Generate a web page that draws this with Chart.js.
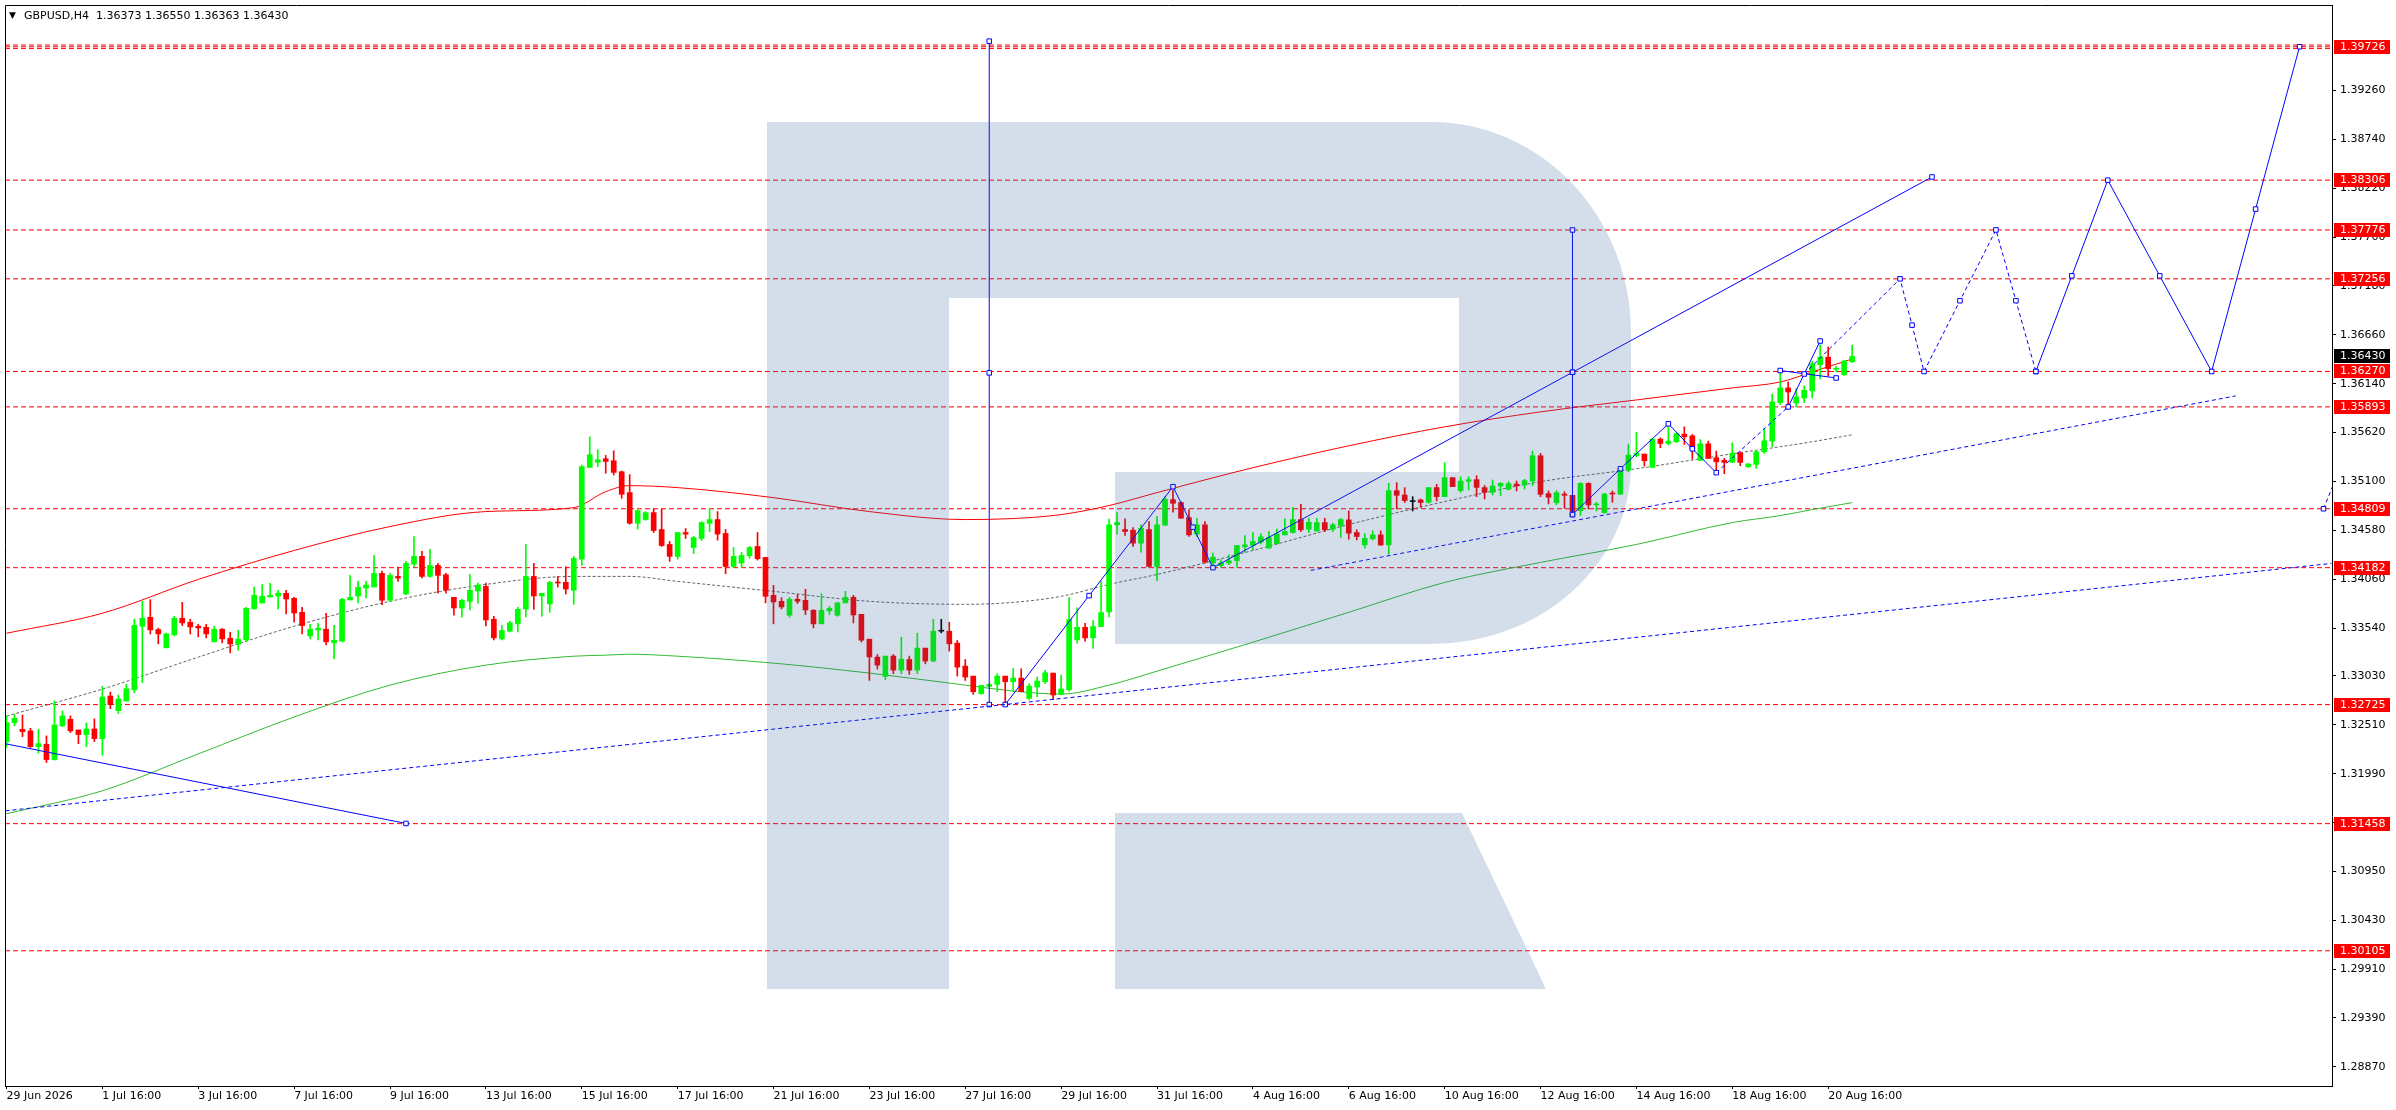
<!DOCTYPE html>
<html lang="en">
<head>
<meta charset="UTF-8">
<title>GBPUSD,H4</title>
<script src="https://cdn.jsdelivr.net/npm/chart.js"></script>
<style>
    html, body { margin: 0; padding: 0; background: #fff; overflow: hidden; }
    canvas { display: block; }
</style>
</head>
<body>
<canvas id="chart" width="2396" height="1110"></canvas>
<script>
// --- Data (bar index 0 = 29 Jun 16:00, H4 bars) ---
const symbol = 'GBPUSD,H4';

const openP = [
    1.32331, 1.32533, 1.32462, 1.32445, 1.32278, 1.32303, 1.32140, 1.32498, 1.32568, 1.32455, 1.32406, 1.32466,
    1.32363, 1.32816, 1.32660, 1.32763, 1.32883, 1.33559, 1.33654, 1.33523, 1.33329, 1.33467, 1.33644, 1.33601,
    1.33559, 1.33548, 1.33393, 1.33527, 1.33431, 1.33371, 1.33414, 1.33743, 1.33806, 1.33870, 1.33881, 1.33909,
    1.33856, 1.33707, 1.33456, 1.33520, 1.33527, 1.33382, 1.33400, 1.33838, 1.33881, 1.33966, 1.33976, 1.34121,
    1.33835, 1.34089, 1.33902, 1.34220, 1.34302, 1.34089, 1.34206, 1.34107, 1.33866, 1.33753, 1.33824, 1.33934,
    1.33983, 1.33633, 1.33424, 1.33506, 1.33584, 1.33743, 1.34089, 1.33881, 1.33796, 1.34026, 1.34026, 1.33941,
    1.34273, 1.35249, 1.35303, 1.35341, 1.35320, 1.35203, 1.34981, 1.34655, 1.34694, 1.34768, 1.34588, 1.34429,
    1.34302, 1.34556, 1.34397, 1.34493, 1.34655, 1.34694, 1.34546, 1.34195, 1.34231, 1.34309, 1.34408, 1.34291,
    1.33888, 1.33824, 1.33676, 1.33846, 1.33835, 1.33729, 1.33584, 1.33722, 1.33676, 1.33807, 1.33867, 1.33686,
    1.33421, 1.33230, 1.33025, 1.33241, 1.33092, 1.33205, 1.33092, 1.33326, 1.33188, 1.33506, 1.33506, 1.33379,
    1.33135, 1.33028, 1.32841, 1.32919, 1.32940, 1.33028, 1.32968, 1.33007, 1.32791, 1.32912, 1.32968, 1.33060,
    1.32834, 1.32883, 1.33414, 1.33548, 1.33435, 1.33555, 1.33711, 1.34638, 1.34588, 1.34581, 1.34443, 1.34588,
    1.34195, 1.34634, 1.34906, 1.34875, 1.34715, 1.34539, 1.34638, 1.34231, 1.34203, 1.34231, 1.34256, 1.34404,
    1.34418, 1.34454, 1.34390, 1.34436, 1.34531, 1.34556, 1.34694, 1.34592, 1.34574, 1.34662, 1.34592, 1.34630,
    1.34691, 1.34556, 1.34425, 1.34489, 1.34531, 1.34425, 1.35002, 1.34956, 1.34885, 1.34903, 1.34878, 1.35034,
    1.34938, 1.35140, 1.35002, 1.35101, 1.35119, 1.35034, 1.34984, 1.35051, 1.35016, 1.35072, 1.35062, 1.35104,
    1.35373, 1.34970, 1.34874, 1.34966, 1.34952, 1.34789, 1.35079, 1.34850, 1.34768, 1.34977, 1.34963, 1.35221,
    1.35373, 1.35391, 1.35249, 1.35550, 1.35504, 1.35522, 1.35603, 1.35585, 1.35324, 1.35500, 1.35352, 1.35324,
    1.35302, 1.35401, 1.35256, 1.35281, 1.35415, 1.35529, 1.35939, 1.36095, 1.35935, 1.35988, 1.36063, 1.36342,
    1.36423, 1.36293, 1.36236, 1.36373
];
const highP = [
    1.32604, 1.32621, 1.32614, 1.32473, 1.32462, 1.32392, 1.32763, 1.32657, 1.32604, 1.32455, 1.32530, 1.32572,
    1.32919, 1.32858, 1.32827, 1.32940, 1.33633, 1.33824, 1.33842, 1.33538, 1.33485, 1.33665, 1.33813, 1.33633,
    1.33580, 1.33580, 1.33559, 1.33534, 1.33495, 1.33516, 1.33760, 1.33976, 1.34001, 1.34015, 1.33941, 1.33941,
    1.33866, 1.33760, 1.33580, 1.33591, 1.33697, 1.33569, 1.33856, 1.34100, 1.34036, 1.34036, 1.34312, 1.34146,
    1.34121, 1.34188, 1.34249, 1.34514, 1.34355, 1.34376, 1.34227, 1.34121, 1.33866, 1.33849, 1.34111, 1.34019,
    1.34019, 1.33665, 1.33569, 1.33612, 1.33760, 1.34429, 1.34227, 1.33909, 1.34036, 1.34089, 1.34192, 1.34302,
    1.35274, 1.35575, 1.35437, 1.35377, 1.35426, 1.35211, 1.35172, 1.34797, 1.34779, 1.34804, 1.34807, 1.34461,
    1.34556, 1.34599, 1.34514, 1.34673, 1.34807, 1.34779, 1.34588, 1.34397, 1.34344, 1.34408, 1.34556, 1.34291,
    1.33994, 1.33863, 1.33867, 1.33895, 1.33952, 1.33736, 1.33906, 1.33771, 1.33814, 1.33930, 1.33888, 1.33686,
    1.33421, 1.33258, 1.33241, 1.33258, 1.33442, 1.33241, 1.33485, 1.33326, 1.33633, 1.33633, 1.33601, 1.33407,
    1.33205, 1.33028, 1.32929, 1.32947, 1.33053, 1.33028, 1.33110, 1.33106, 1.32947, 1.33018, 1.33089, 1.33060,
    1.33039, 1.33867, 1.33754, 1.33591, 1.33619, 1.34036, 1.34698, 1.34769, 1.34701, 1.34609, 1.34638, 1.34673,
    1.34726, 1.34938, 1.35009, 1.34885, 1.34797, 1.34708, 1.34673, 1.34337, 1.34266, 1.34319, 1.34418, 1.34524,
    1.34556, 1.34542, 1.34567, 1.34592, 1.34701, 1.34825, 1.34857, 1.34708, 1.34708, 1.34708, 1.34655, 1.34708,
    1.34786, 1.34585, 1.34546, 1.34574, 1.34574, 1.35080, 1.35087, 1.35034, 1.34938, 1.34913, 1.35034, 1.35069,
    1.35299, 1.35140, 1.35150, 1.35150, 1.35161, 1.35055, 1.35115, 1.35087, 1.35097, 1.35104, 1.35122, 1.35423,
    1.35398, 1.34998, 1.35002, 1.34991, 1.34952, 1.35087, 1.35087, 1.34878, 1.34973, 1.34998, 1.35256, 1.35497,
    1.35621, 1.35391, 1.35557, 1.35564, 1.35681, 1.35617, 1.35681, 1.35599, 1.35546, 1.35529, 1.35423, 1.35345,
    1.35511, 1.35415, 1.35292, 1.35423, 1.35663, 1.36031, 1.36264, 1.36158, 1.36088, 1.36116, 1.36377, 1.36554,
    1.36530, 1.36325, 1.36388, 1.36550
];
const lowP = [
    1.32268, 1.32498, 1.32384, 1.32268, 1.32208, 1.32109, 1.32133, 1.32491, 1.32427, 1.32310, 1.32278, 1.32331,
    1.32186, 1.32682, 1.32629, 1.32763, 1.32851, 1.32958, 1.33477, 1.33371, 1.33329, 1.33456, 1.33566, 1.33477,
    1.33446, 1.33435, 1.33393, 1.33382, 1.33276, 1.33304, 1.33400, 1.33743, 1.33806, 1.33870, 1.33743, 1.33690,
    1.33601, 1.33477, 1.33424, 1.33414, 1.33361, 1.33212, 1.33393, 1.33838, 1.33806, 1.33859, 1.33976, 1.33789,
    1.33824, 1.34036, 1.33895, 1.34192, 1.34072, 1.34082, 1.33912, 1.33912, 1.33676, 1.33654, 1.33732, 1.33803,
    1.33562, 1.33414, 1.33414, 1.33499, 1.33499, 1.33658, 1.33739, 1.33665, 1.33707, 1.33976, 1.33902, 1.33792,
    1.34206, 1.35249, 1.35257, 1.35186, 1.35168, 1.34921, 1.34645, 1.34592, 1.34687, 1.34556, 1.34408, 1.34249,
    1.34273, 1.34493, 1.34333, 1.34471, 1.34567, 1.34475, 1.34118, 1.34185, 1.34185, 1.34284, 1.34263, 1.33807,
    1.33584, 1.33743, 1.33655, 1.33800, 1.33683, 1.33541, 1.33584, 1.33683, 1.33665, 1.33807, 1.33594, 1.33391,
    1.32982, 1.33103, 1.32990, 1.33053, 1.33053, 1.33046, 1.33053, 1.33159, 1.33181, 1.33488, 1.33294, 1.33028,
    1.32982, 1.32834, 1.32834, 1.32912, 1.32862, 1.32728, 1.32862, 1.32862, 1.32777, 1.32806, 1.32947, 1.32777,
    1.32827, 1.32869, 1.33379, 1.33400, 1.33322, 1.33555, 1.33658, 1.34539, 1.34525, 1.34408, 1.34348, 1.34188,
    1.34043, 1.34634, 1.34772, 1.34708, 1.34514, 1.34514, 1.34231, 1.34178, 1.34188, 1.34213, 1.34188, 1.34348,
    1.34372, 1.34436, 1.34390, 1.34436, 1.34531, 1.34549, 1.34567, 1.34556, 1.34567, 1.34567, 1.34567, 1.34503,
    1.34485, 1.34478, 1.34390, 1.34475, 1.34422, 1.34326, 1.34807, 1.34875, 1.34786, 1.34825, 1.34867, 1.34892,
    1.34938, 1.35044, 1.34984, 1.35009, 1.34938, 1.34913, 1.34956, 1.34949, 1.35009, 1.34998, 1.35019, 1.35055,
    1.34938, 1.34860, 1.34850, 1.34814, 1.34736, 1.34736, 1.34807, 1.34786, 1.34761, 1.34878, 1.34963, 1.35203,
    1.35362, 1.35263, 1.35249, 1.35458, 1.35486, 1.35514, 1.35493, 1.35338, 1.35324, 1.35345, 1.35214, 1.35182,
    1.35302, 1.35267, 1.35249, 1.35239, 1.35398, 1.35469, 1.35918, 1.35918, 1.35893, 1.35939, 1.35988, 1.36194,
    1.36222, 1.36264, 1.36229, 1.36363
];
const closeP = [
    1.32533, 1.32579, 1.32438, 1.32278, 1.32310, 1.32140, 1.32508, 1.32604, 1.32445, 1.32406, 1.32466, 1.32363,
    1.32805, 1.32724, 1.32784, 1.32894, 1.33569, 1.33644, 1.33520, 1.33477, 1.33477, 1.33644, 1.33594, 1.33552,
    1.33541, 1.33477, 1.33527, 1.33424, 1.33371, 1.33421, 1.33750, 1.33888, 1.33877, 1.33888, 1.33912, 1.33849,
    1.33700, 1.33566, 1.33527, 1.33538, 1.33393, 1.33410, 1.33845, 1.33866, 1.33973, 1.33997, 1.34121, 1.33835,
    1.34100, 1.34072, 1.34227, 1.34302, 1.34089, 1.34206, 1.34100, 1.33944, 1.33753, 1.33835, 1.33941, 1.33997,
    1.33626, 1.33435, 1.33513, 1.33594, 1.33739, 1.34089, 1.33881, 1.33909, 1.34026, 1.34019, 1.33955, 1.34280,
    1.35257, 1.35384, 1.35331, 1.35313, 1.35196, 1.34963, 1.34655, 1.34790, 1.34768, 1.34577, 1.34418, 1.34302,
    1.34556, 1.34539, 1.34503, 1.34662, 1.34694, 1.34539, 1.34195, 1.34302, 1.34312, 1.34397, 1.34277, 1.33877,
    1.33817, 1.33764, 1.33846, 1.33824, 1.33732, 1.33584, 1.33729, 1.33750, 1.33808, 1.33867, 1.33679, 1.33410,
    1.33232, 1.33145, 1.33241, 1.33092, 1.33209, 1.33092, 1.33326, 1.33188, 1.33506, 1.33506, 1.33372, 1.33124,
    1.33018, 1.32862, 1.32929, 1.32940, 1.33028, 1.32968, 1.33007, 1.32862, 1.32922, 1.32975, 1.33064, 1.32827,
    1.32891, 1.33630, 1.33548, 1.33435, 1.33555, 1.33704, 1.34638, 1.34662, 1.34567, 1.34443, 1.34602, 1.34195,
    1.34638, 1.34910, 1.34867, 1.34708, 1.34531, 1.34638, 1.34241, 1.34294, 1.34231, 1.34256, 1.34418, 1.34425,
    1.34461, 1.34510, 1.34503, 1.34542, 1.34567, 1.34694, 1.34585, 1.34666, 1.34662, 1.34585, 1.34638, 1.34694,
    1.34549, 1.34514, 1.34493, 1.34531, 1.34422, 1.35002, 1.34952, 1.34896, 1.34885, 1.34875, 1.35034, 1.34938,
    1.35140, 1.35044, 1.35104, 1.35119, 1.35037, 1.34984, 1.35051, 1.35080, 1.35076, 1.35055, 1.35108, 1.35373,
    1.34963, 1.34931, 1.34980, 1.34952, 1.34779, 1.35079, 1.34850, 1.34860, 1.34966, 1.34966, 1.35239, 1.35380,
    1.35398, 1.35320, 1.35550, 1.35504, 1.35529, 1.35607, 1.35575, 1.35451, 1.35500, 1.35345, 1.35309, 1.35302,
    1.35401, 1.35302, 1.35285, 1.35415, 1.35532, 1.35946, 1.36095, 1.36052, 1.35999, 1.36070, 1.36353, 1.36423,
    1.36300, 1.36303, 1.36381, 1.36430
];

// time axis labels (one every 12 bars)
const xTickIdx = [0, 12, 24, 36, 48, 60, 72, 84, 96, 108, 120, 132, 144, 156, 168, 180, 192, 204, 216, 228];
const xTickLabels = ['29 Jun 2026', '1 Jul 16:00', '3 Jul 16:00', '7 Jul 16:00', '9 Jul 16:00', '13 Jul 16:00',
    '15 Jul 16:00', '17 Jul 16:00', '21 Jul 16:00', '23 Jul 16:00', '27 Jul 16:00', '29 Jul 16:00',
    '31 Jul 16:00', '4 Aug 16:00', '6 Aug 16:00', '10 Aug 16:00', '12 Aug 16:00', '14 Aug 16:00',
    '18 Aug 16:00', '20 Aug 16:00'];

// price axis labels
const yTickValues = [1.39260, 1.38740, 1.38220, 1.37700, 1.37180, 1.36660, 1.36140, 1.35620, 1.35100,
    1.34580, 1.34060, 1.33540, 1.33030, 1.32510, 1.31990, 1.31470, 1.30950, 1.30430, 1.29910, 1.29390, 1.28870];

// horizontal levels (red dashed, with red price tags)
const levels = [1.39726, 1.38306, 1.37776, 1.37256, 1.36270, 1.35893, 1.34809, 1.34182, 1.32725, 1.31458, 1.30105];
const levelBandExtra = [1.39744, 1.39708];
const lastPrice = 1.36430;

// moving averages, read at these bars
const maIdx = [0, 12, 24, 36, 48, 60, 71, 75, 78, 84, 96, 108, 120, 126, 132, 138, 144, 156, 168, 180, 192, 204, 216, 222, 226, 231];
const maUpper = [1.33484, 1.33697, 1.34057, 1.34365, 1.34620, 1.34779, 1.34821, 1.34991, 1.35055, 1.35034, 1.34927, 1.34779,
    1.34694, 1.34705, 1.34747, 1.34843, 1.34981, 1.35246, 1.35479, 1.35681, 1.35840, 1.35967, 1.36095, 1.36158, 1.36265, 1.36403];
const maMiddle = [1.32603, 1.32890, 1.33230, 1.33559, 1.33824, 1.34004, 1.34089, 1.34089, 1.34089, 1.34036, 1.33930, 1.33824,
    1.33792, 1.33813, 1.33877, 1.34004, 1.34110, 1.34365, 1.34641, 1.34885, 1.35097, 1.35235, 1.35394, 1.35469, 1.35522, 1.35596];
const maLower = [1.31563, 1.31808, 1.32200, 1.32593, 1.32932, 1.33145, 1.33240, 1.33251, 1.33261, 1.33240, 1.33166, 1.33060,
    1.32932, 1.32869, 1.32837, 1.32932, 1.33081, 1.33389, 1.33707, 1.34025, 1.34238, 1.34429, 1.34662, 1.34736, 1.34800, 1.34874];

// blue drawings (bar index, price)
const oldTrendIdx = [-0.125, 50];
const oldTrendVal = [1.32308, 1.31460];
const longSupIdx = [-0.125, 291.0];
const longSupVal = [1.31595, 1.34227];
const shortSupIdx = [163.25, 279];
const shortSupVal = [1.34153, 1.36010];
const vert1Idx = [123, 123, 123];
const vert1Val = [1.32725, 1.36255, 1.39785];
const vert2Idx = [196, 196, 196];
const vert2Val = [1.34747, 1.36262, 1.37776];
const waveAIdx = [125, 135.5, 146, 148.5, 151, 196, 241];
const waveAVal = [1.32725, 1.33885, 1.35044, 1.34613, 1.34182, 1.36261, 1.38340];
const waveBIdx = [196, 202, 208, 211, 214];
const waveBVal = [1.34747, 1.35235, 1.35713, 1.35447, 1.35193];
const linkIdx = [214, 223];
const linkVal = [1.35193, 1.35893];
const waveCIdx = [223, 225, 227];
const waveCVal = [1.35893, 1.36243, 1.36594];
const waveDIdx = [222, 229];
const waveDVal = [1.36280, 1.36201];
const fcDashIdx = [225, 237, 238.5, 240, 244.5, 249, 251.5, 254];
const fcDashVal = [1.36243, 1.37256, 1.36763, 1.36270, 1.37023, 1.37776, 1.37023, 1.36270];
const fcSolidIdx = [254, 258.5, 263, 269.5, 276, 281.5, 287];
const fcSolidVal = [1.36270, 1.37288, 1.38306, 1.37288, 1.36270, 1.37998, 1.39726];
const edgeIdx = [290, 291.2];
const edgeVal = [1.34809, 1.35060];

// --- axis window ---
const X_MIN = -0.1875, X_MAX = 291.0625;
const Y_MIN = 1.28666, Y_MAX = 1.40170;

const FONT = '"DejaVu Sans", Tahoma, sans-serif';
const BLUE = '#0000ff';
const UP = '#00ff00', DOWN = '#ff0000', FLAT = '#000000';

const bars = openP.map((_, i) => i);
const candleColor = bars.map(i => closeP[i] > openP[i] ? UP : (closeP[i] < openP[i] ? DOWN : FLAT));

function pts(idx, val) {
    return idx.map((x, k) => ({ x: x, y: val[k] }));
}

function blue(idx, val, dash, marks) {
    return {
        type: 'line',
        data: pts(idx, val),
        borderColor: BLUE,
        borderWidth: 1,
        borderDash: dash ? [4, 3] : [],
        tension: 0,
        pointStyle: 'rect',
        pointRadius: idx.map((_, k) => (marks === 'all' || (marks || []).includes(k)) ? 3.2 : 0),
        pointBackgroundColor: '#ffffff',
        pointBorderColor: BLUE,
        pointBorderWidth: 1,
        order: 0
    };
}

function maLine(val, color, dash) {
    return {
        type: 'line',
        data: pts(maIdx, val),
        borderColor: color,
        borderWidth: 1,
        borderDash: dash || [],
        pointRadius: 0,
        cubicInterpolationMode: 'monotone',
        order: 3
    };
}

const levelSets = levels.concat(levelBandExtra).map(v => ({
    type: 'line',
    data: [{ x: X_MIN, y: v }, { x: X_MAX, y: v }],
    borderColor: '#ff0000',
    borderWidth: 1,
    borderDash: [5, 3],
    pointRadius: 0,
    order: 4
}));

const datasets = [
    // wicks
    {
        type: 'bar',
        data: bars.map(i => ({ x: i, y: [lowP[i], highP[i]] })),
        backgroundColor: candleColor,
        barThickness: 1,
        grouped: false,
        borderWidth: 0,
        order: 2
    },
    // bodies
    {
        type: 'bar',
        data: bars.map(i => ({ x: i, y: [openP[i], closeP[i]] })),
        backgroundColor: candleColor,
        barThickness: 5,
        minBarLength: 1,
        grouped: false,
        borderWidth: 0,
        order: 1
    },
    maLine(maUpper, '#ff0000'),
    maLine(maMiddle, '#666666', [3, 2]),
    maLine(maLower, '#33bb33'),
    ...levelSets,
    blue(oldTrendIdx, oldTrendVal, false, [1]),
    blue(longSupIdx, longSupVal, true, []),
    blue(shortSupIdx, shortSupVal, true, []),
    blue(vert1Idx, vert1Val, false, 'all'),
    blue(vert2Idx, vert2Val, false, 'all'),
    blue(waveAIdx, waveAVal, false, 'all'),
    blue(waveBIdx, waveBVal, false, 'all'),
    blue(linkIdx, linkVal, true, []),
    blue(waveCIdx, waveCVal, false, 'all'),
    blue(waveDIdx, waveDVal, false, 'all'),
    blue(fcDashIdx, fcDashVal, true, [1, 2, 3, 4, 5, 6, 7]),
    blue(fcSolidIdx, fcSolidVal, false, 'all'),
    blue(edgeIdx, edgeVal, true, [0])
];

// watermark logo, tags, frame and header
const terminalPlugin = {
    id: 'terminal',
    afterDatasetsDraw(chart) {
        const { ctx, chartArea: a } = chart;
        const L = a.left - 2, T = a.top - 2;
        ctx.save();
        ctx.beginPath();
        ctx.rect(a.left, a.top, a.right - a.left, a.bottom - a.top);
        ctx.clip();
        ctx.fillStyle = 'rgba(40, 90, 150, 0.2)';
        ctx.beginPath();
        // stem
        ctx.moveTo(L + 764, T + 119);
        ctx.lineTo(L + 946, T + 119);
        ctx.lineTo(L + 946, T + 986);
        ctx.lineTo(L + 764, T + 986);
        ctx.closePath();
        // bowl
        ctx.moveTo(L + 940, T + 119);
        ctx.lineTo(L + 1428, T + 119);
        ctx.ellipse(L + 1428, T + 330, 200, 211, 0, -Math.PI / 2, 0);
        ctx.lineTo(L + 1628, T + 461);
        ctx.ellipse(L + 1428, T + 461, 200, 180, 0, 0, Math.PI / 2);
        ctx.lineTo(L + 1112, T + 641);
        ctx.lineTo(L + 1112, T + 469);
        ctx.lineTo(L + 1456, T + 469);
        ctx.lineTo(L + 1456, T + 295);
        ctx.lineTo(L + 940, T + 295);
        ctx.closePath();
        // leg
        ctx.moveTo(L + 1112, T + 810);
        ctx.lineTo(L + 1459, T + 810);
        ctx.lineTo(L + 1543, T + 986);
        ctx.lineTo(L + 1112, T + 986);
        ctx.closePath();
        ctx.fill();
        ctx.restore();
    },
    afterDraw(chart) {
        const { ctx, chartArea: a } = chart;
        const y = chart.scales.y;
        ctx.save();
        // left / top frame
        ctx.strokeStyle = '#000';
        ctx.lineWidth = 1;
        ctx.beginPath();
        ctx.moveTo(a.left + 0.5, a.bottom);
        ctx.lineTo(a.left + 0.5, a.top + 0.5);
        ctx.lineTo(a.right, a.top + 0.5);
        ctx.stroke();

        ctx.font = '11px ' + FONT;
        ctx.textBaseline = 'middle';
        ctx.textAlign = 'left';
        const tag = (v, bg) => {
            const py = Math.round(y.getPixelForValue(v));
            ctx.fillStyle = bg;
            ctx.fillRect(a.right + 2, py - 7, 56, 14);
            ctx.fillStyle = '#ffffff';
            ctx.fillText(v.toFixed(5), a.right + 8, py + 0.5);
        };
        levels.forEach(v => tag(v, '#ff0000'));
        tag(lastPrice, '#000000');

        // header
        const n = closeP.length - 1;
        ctx.fillStyle = '#000';
        ctx.font = '9px ' + FONT;
        ctx.fillText('\u25BC', a.left + 4, a.top + 11);
        ctx.font = '11px ' + FONT;
        ctx.fillText(symbol + '  ' + [openP[n], highP[n], lowP[n], closeP[n]].map(v => v.toFixed(5)).join(' '),
            a.left + 19, a.top + 11);
        ctx.restore();
    }
};

Chart.defaults.font.family = FONT;
Chart.defaults.font.size = 11;

new Chart(document.getElementById('chart').getContext('2d'), {
    type: 'bar',
    data: { datasets: datasets },
    options: {
        responsive: false,
        animation: false,
        events: [],
        layout: { padding: { left: 2, top: 2, right: 0, bottom: 0 } },
        plugins: { legend: { display: false }, tooltip: { enabled: false } },
        scales: {
            x: {
                type: 'linear',
                min: X_MIN,
                max: X_MAX,
                offset: false,
                bounds: 'data',
                afterBuildTicks: s => { s.ticks = xTickIdx.map(v => ({ value: v })); },
                afterFit: s => { s.height = 24; s.paddingLeft = 0; s.paddingRight = 0; },
                ticks: {
                    autoSkip: false, maxRotation: 0, minRotation: 0, align: 'start', padding: 1,
                    color: '#000', font: { size: 11, family: FONT },
                    callback: v => { const k = xTickIdx.indexOf(v); return k >= 0 ? xTickLabels[k] : ''; }
                },
                grid: { drawOnChartArea: false, drawTicks: true, tickLength: 3, color: '#000', offset: false },
                border: { display: true, color: '#000', width: 1 }
            },
            y: {
                type: 'linear',
                position: 'right',
                min: Y_MIN,
                max: Y_MAX,
                bounds: 'data',
                afterBuildTicks: s => { s.ticks = yTickValues.map(v => ({ value: v })); },
                afterFit: s => { s.width = 64; s.paddingTop = 0; s.paddingBottom = 0; },
                ticks: { padding: 4, color: '#000', font: { size: 11, family: FONT }, callback: v => v.toFixed(5) },
                grid: { drawOnChartArea: false, drawTicks: true, tickLength: 4, color: '#000' },
                border: { display: true, color: '#000', width: 1 }
            }
        }
    },
    plugins: [terminalPlugin]
});
</script>
</body>
</html>
